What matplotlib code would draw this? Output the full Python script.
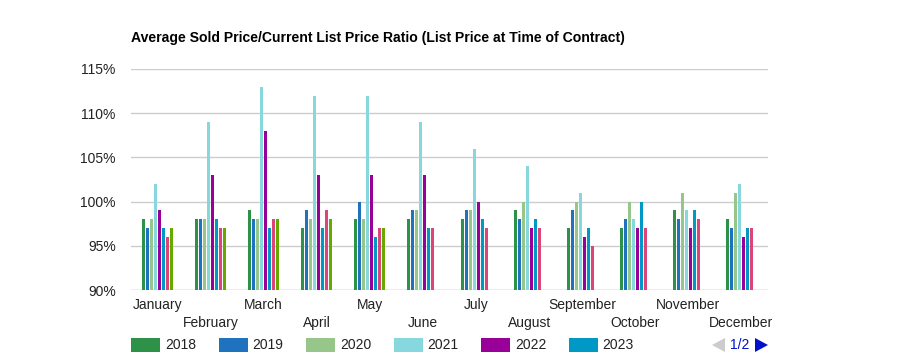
import numpy as np
import matplotlib
matplotlib.use("Agg")
import matplotlib.pyplot as plt
import matplotlib.transforms as mtransforms
from matplotlib.patches import Rectangle, Polygon

plt.rcParams['font.family'] = ['Liberation Sans', 'DejaVu Sans']

months = ["January", "February", "March", "April", "May", "June", "July",
          "August", "September", "October", "November", "December"]
years = ["2018", "2019", "2020", "2021", "2022", "2023", "2024", "2025"]
colors = ["#2e9148", "#1f72be", "#97c68b", "#87d7de", "#990099", "#0099c6", "#dd4477", "#66aa00"]

nan = np.nan
v2018 = [98, 98, 99, 97, 98, 98, 98, 99, 97, 97, 99, 98]
v2019 = [97, 98, 98, 99, 100, 99, 99, 98, 99, 98, 98, 97]
v2020 = [98, 98, 98, 98, 98, 99, 99, 100, 100, 100, 101, 101]
v2021 = [102, 109, 113, 112, 112, 109, 106, 104, 101, 98, 99, 102]
v2022 = [99, 103, 108, 103, 103, 103, 100, 97, 96, 97, 97, 96]
v2023 = [97, 98, 97, 97, 96, 97, 98, 98, 97, 100, 99, 97]
v2024 = [96, 97, 98, 99, 97, 97, 97, 97, 95, 97, 98, 97]
v2025 = [97, 97, 98, 98, 97, nan, nan, nan, nan, nan, nan, nan]
series = [v2018, v2019, v2020, v2021, v2022, v2023, v2024, v2025]

yticks = [90, 95, 100, 105, 110, 115]
ytick_labels = ["90%", "95%", "100%", "105%", "110%", "115%"]

W, H = 900, 360
fig = plt.figure(figsize=(9, 3.6), dpi=100)
ax = fig.add_axes([131 / W, 1 - 290 / H, (768 - 131) / W, (290 - 69) / H])

x = np.arange(len(months))
step = 4 / 53
width = 3 / 53
for j, (vals, c) in enumerate(zip(series, colors)):
    vals = np.array(vals, dtype=float)
    ax.bar(x + (j - 3.5) * step, vals - 90, bottom=90, width=width, color=c, linewidth=0)

ax.set_xlim(-0.5, len(months) - 0.5)
ax.set_ylim(90, 115)
ax.set_yticks(yticks)
ax.set_yticklabels(ytick_labels)
ax.grid(axis='y', color='#cccccc', linewidth=1)
ax.set_axisbelow(True)
for s in ax.spines.values():
    s.set_visible(False)
ax.tick_params(axis='y', length=0, pad=11, labelsize=10, labelcolor='#222222')
ax.set_xticks([])
ax.axhline(90, color='#cccccc', linewidth=1, zorder=0)

blend = mtransforms.blended_transform_factory(ax.transData, fig.transFigure)
for i, m in enumerate(months):
    ypix = 305 if i % 2 == 0 else 323
    ax.text(i, 1 - ypix / H, m, transform=blend, ha='center', va='center',
            fontsize=10, color='#222222', clip_on=False)

fig.text(131 / W, 1 - 38 / H, "Average Sold Price/Current List Price Ratio (List Price at Time of Contract)",
         fontsize=10.1, fontweight='bold', ha='left', va='center', color='#000000')

# legend (page 1 of 2)
for k in range(6):
    x0 = 131 + k * 87.5
    fig.patches.append(Rectangle((x0 / W, 1 - 352 / H), 29 / W, 14 / H, transform=fig.transFigure,
                                 facecolor=colors[k], edgecolor='none'))
    fig.text((x0 + 34) / W, 1 - 345 / H, years[k], fontsize=10, ha='left', va='center', color='#222222')

fig.patches.append(Polygon([(725 / W, 1 - 338 / H), (725 / W, 1 - 352 / H), (712 / W, 1 - 345 / H)],
                           closed=True, transform=fig.transFigure, facecolor='#cccccc', edgecolor='none'))
fig.text(740 / W, 1 - 345 / H, "1/2", fontsize=10, ha='center', va='center', color='#0011cc')
fig.patches.append(Polygon([(755 / W, 1 - 338 / H), (755 / W, 1 - 352 / H), (768 / W, 1 - 345 / H)],
                           closed=True, transform=fig.transFigure, facecolor='#0011cc', edgecolor='none'))

fig.savefig("out.png", dpi=100)
